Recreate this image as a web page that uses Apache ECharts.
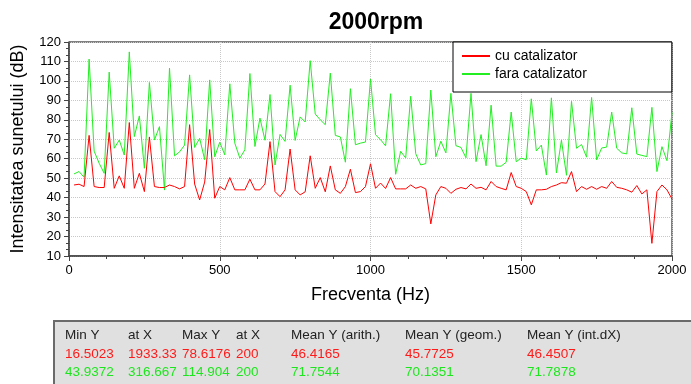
<!DOCTYPE html>
<html>
<head>
<meta charset="utf-8">
<script src="https://cdn.jsdelivr.net/npm/echarts@6/dist/echarts.min.js"></script>
<style>
  html, body { margin: 0; padding: 0; background: #fff; }
  #chart { width: 691px; height: 384px; }
</style>
</head>
<body>
<div id="chart"></div>
<script>
var chartTitle = '2000rpm';
var freqStep = 2000 / 120;   // spectrum bins, first one at 16.667 Hz

var cuCatalizator = [
  46.5, 46.9, 45.7, 72.0, 45.7, 45.2, 45.2, 73.5, 44.8, 51.2,
  44.8, 78.6, 44.8, 52.5, 43.1, 71.2, 45.7, 45.2, 45.2, 46.5,
  45.7, 44.5, 45.7, 77.5, 47.0, 38.8, 48.0, 75.0, 39.7, 45.7,
  44.0, 50.3, 44.0, 44.0, 44.0, 49.5, 44.0, 44.0, 47.0, 68.8,
  43.1, 40.5, 44.0, 65.0, 44.0, 41.4, 43.0, 61.5, 44.8, 50.3,
  43.0, 56.3, 44.0, 42.2, 45.7, 54.6, 42.6, 43.1, 45.7, 57.4,
  44.8, 47.5, 44.7, 50.3, 44.5, 44.5, 44.5, 46.5, 44.8, 45.7,
  44.5, 26.5, 41.4, 45.7, 44.8, 42.2, 44.3, 45.2, 44.5, 47.0,
  44.8, 45.3, 44.0, 48.3, 45.7, 44.8, 44.0, 52.9, 45.7, 44.8,
  43.1, 36.3, 44.0, 44.0, 44.3, 45.7, 46.5, 47.7, 47.4, 53.4,
  43.1, 45.7, 44.3, 45.7, 44.3, 45.7, 44.8, 48.3, 45.3, 44.8,
  44.0, 42.8, 46.2, 41.9, 44.0, 16.5, 43.1, 46.5, 44.0, 39.3
];

var faraCatalizator = [
  52.2, 53.4, 50.5, 111.2, 63.9, 57.7, 52.5, 104.5, 65.4, 69.6,
  61.9, 114.9, 71.4, 82.0, 55.1, 99.2, 69.6, 76.5, 43.9, 106.6,
  61.5, 63.5, 67.0, 103.1, 65.8, 70.5, 59.5, 100.5, 61.0, 68.5,
  62.0, 98.5, 68.0, 60.3, 64.6, 103.8, 66.3, 80.9, 69.5, 93.0,
  56.8, 72.5, 68.9, 97.8, 69.4, 81.5, 78.9, 110.4, 83.0, 80.0,
  77.5, 104.0, 72.0, 71.2, 58.2, 96.0, 67.2, 68.0, 68.6, 101.0,
  72.3, 69.8, 66.6, 93.4, 52.0, 63.8, 60.4, 92.1, 62.6, 56.8,
  57.5, 95.3, 61.0, 69.0, 63.0, 93.6, 66.7, 65.8, 60.5, 93.6,
  58.5, 72.4, 56.4, 87.5, 56.2, 56.2, 58.2, 84.0, 58.5, 60.3,
  59.5, 90.8, 64.0, 67.0, 51.6, 91.3, 52.7, 69.5, 51.5, 89.5,
  65.4, 67.3, 60.8, 91.5, 59.4, 65.5, 66.0, 84.0, 65.4, 63.0,
  62.5, 86.2, 62.4, 61.7, 61.1, 86.4, 53.4, 66.2, 59.0, 83.8
];

var statHeaders = ['Min Y', 'at X', 'Max Y', 'at X', 'Mean Y (arith.)', 'Mean Y (geom.)', 'Mean Y (int.dX)'];
var statsCu = ['16.5023', '1933.33', '78.6176', '200', '46.4165', '45.7725', '46.4507'];
var statsFara = ['43.9372', '316.667', '114.904', '200', '71.7544', '70.1351', '71.7878'];
var statColumnsX = [65, 128, 182, 236, 291, 405, 527];

var font = '"Liberation Sans", Arial, sans-serif';

function toPoints(values) {
  return values.map(function (v, i) { return [(i + 1) * freqStep, v]; });
}

var tableTexts = [];
[statHeaders, statsCu, statsFara].forEach(function (row, r) {
  var colors = ['#222', '#ff1a1a', '#1ee61e'];
  var ys = [336, 355, 373];
  row.forEach(function (txt, c) {
    tableTexts.push({
      type: 'text',
      left: statColumnsX[c],
      top: ys[r] - 8,
      style: { text: txt, fill: colors[r], font: '13.5px ' + font }
    });
  });
});

var myChart = echarts.init(document.getElementById('chart'), null, { renderer: 'canvas' });

var option = {
  backgroundColor: '#fff',
  animation: false,
  title: {
    text: chartTitle,
    left: 371,
    textAlign: 'center',
    top: 6,
    textStyle: { fontFamily: font, fontSize: 23, fontWeight: 'bold', color: '#000' }
  },
  legend: {
    orient: 'vertical',
    left: 453,
    top: 42,
    padding: [5, 85, 9, 9],
    itemGap: 0,
    itemWidth: 28,
    itemHeight: 2,
    icon: 'rect',
    borderColor: '#000',
    borderWidth: 1,
    backgroundColor: '#fff',
    textStyle: { fontFamily: font, fontSize: 14, lineHeight: 18, color: '#000' },
    data: ['cu catalizator', 'fara catalizator']
  },
  grid: {
    left: 69,
    right: 19,
    top: 42,
    bottom: 128,
    show: true,
    borderColor: '#000',
    borderWidth: 1,
    backgroundColor: '#fff'
  },
  xAxis: {
    type: 'value',
    min: 0,
    max: 2000,
    interval: 500,
    name: 'Frecventa (Hz)',
    nameLocation: 'middle',
    nameGap: 30,
    nameTextStyle: { fontFamily: font, fontSize: 18, color: '#000' },
    axisLine: { show: true, lineStyle: { color: '#444', width: 1.5 } },
    axisTick: { show: true, inside: false, length: 5, lineStyle: { color: '#444' } },
    minorTick: { show: true, splitNumber: 4, length: 3, lineStyle: { color: '#444' } },
    axisLabel: {
      fontFamily: font, fontSize: 13, color: '#000', margin: 8,
      formatter: function (v) { return String(v); }
    },
    splitLine: { show: true, lineStyle: { color: '#c8c8c8', type: 'dotted', width: 1 } }
  },
  yAxis: {
    type: 'value',
    min: 10,
    max: 120,
    interval: 10,
    name: 'Intensitatea sunetului (dB)',
    nameLocation: 'middle',
    nameGap: 42,
    nameTextStyle: { fontFamily: font, fontSize: 18, color: '#000' },
    axisLine: { show: true, lineStyle: { color: '#444', width: 1.5 } },
    axisTick: { show: true, inside: false, length: 5, lineStyle: { color: '#444' } },
    minorTick: { show: true, splitNumber: 3, length: 3, lineStyle: { color: '#444' } },
    axisLabel: { fontFamily: font, fontSize: 13, color: '#000', margin: 8 },
    splitLine: { show: true, lineStyle: { color: '#c8c8c8', type: 'dotted', width: 1 } }
  },
  series: [
    {
      name: 'cu catalizator',
      type: 'line',
      data: toPoints(cuCatalizator),
      showSymbol: false,
      symbol: 'none',
      color: '#ff0000',
      lineStyle: { color: '#ff0000', width: 1 },
      z: 3
    },
    {
      name: 'fara catalizator',
      type: 'line',
      data: toPoints(faraCatalizator),
      showSymbol: false,
      symbol: 'none',
      color: '#22ee22',
      lineStyle: { color: '#22ee22', width: 1 },
      z: 2
    }
  ],
  graphic: [
    {
      type: 'rect',
      left: 53,
      top: 320,
      shape: { width: 650, height: 80 },
      style: { fill: '#e0e0e0', stroke: '#6a6a6a', lineWidth: 2 }
    }
  ].concat(tableTexts)
};

myChart.setOption(option);
</script>
</body>
</html>
